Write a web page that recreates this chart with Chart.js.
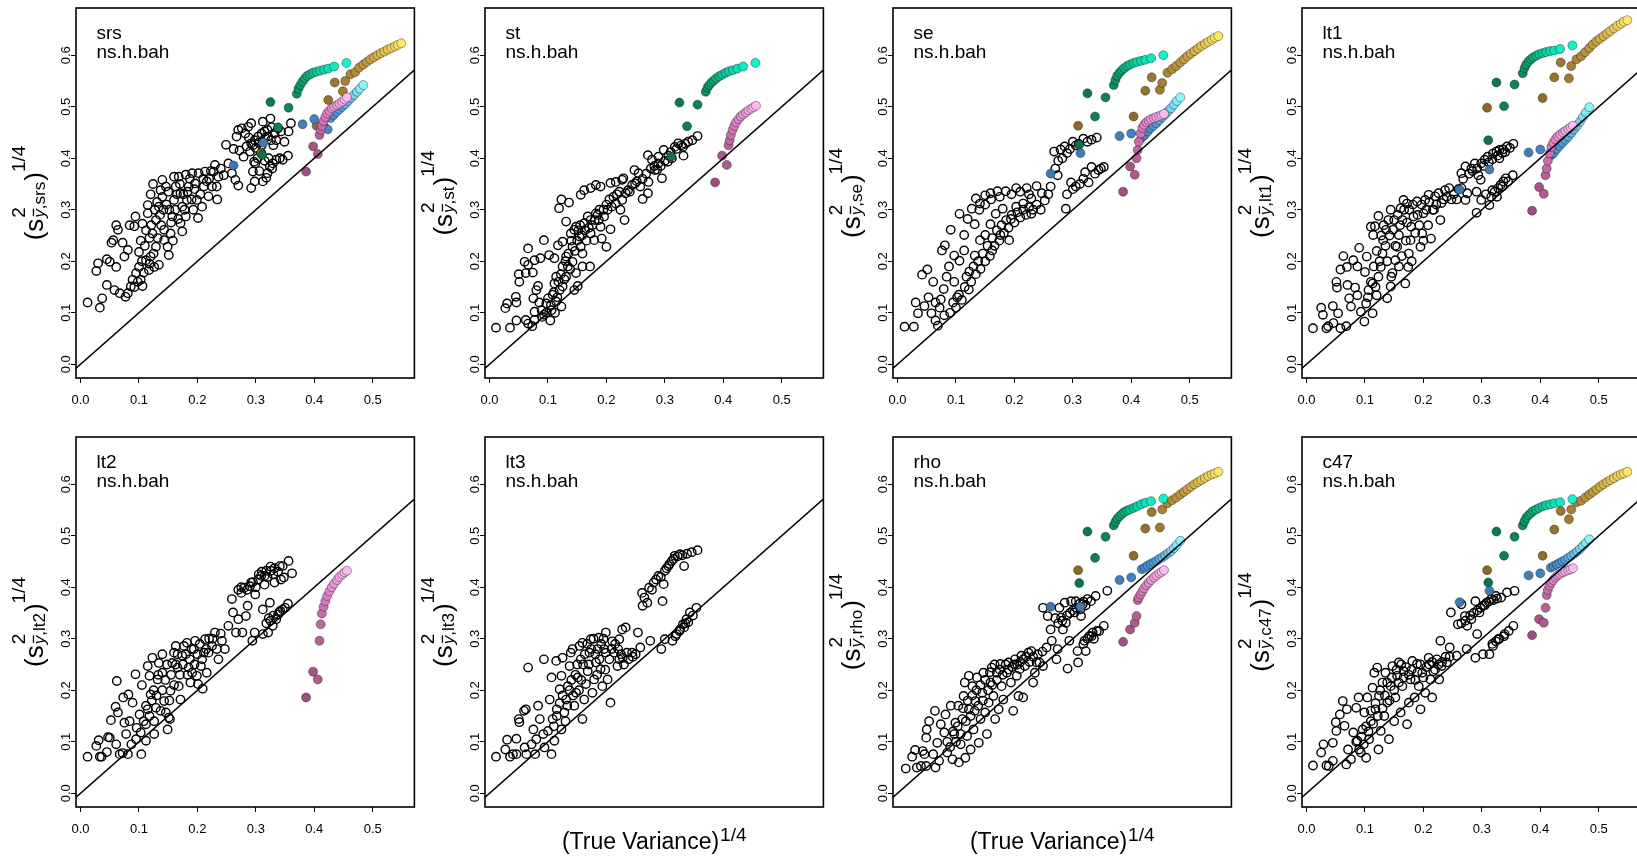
<!DOCTYPE html>
<html>
<head>
<meta charset="utf-8">
<script src="https://cdn.jsdelivr.net/npm/chart.js@4.4.0/dist/chart.umd.min.js"></script>
<style>
  html, body { margin: 0; padding: 0; background: #fff; overflow: hidden; width: 1637px; height: 864px; }
  canvas { position: absolute; }
</style>
</head>
<body>
<script>
// panel names (also the subscript in the y label)
const panelNames = ['srs', 'st', 'se', 'lt1', 'lt2', 'lt3', 'rho', 'c47'];
const xTicks = [0, 0.1, 0.2, 0.3, 0.4, 0.5];
const yTicks = [0, 0.1, 0.2, 0.3, 0.4, 0.5, 0.6];
const refLine = [-0.05, 0.62];   // y = x line

// open circles: [true variance^1/4, estimate^1/4]
const srsOpen = [[0.012,0.120],[0.033,0.110],[0.037,0.128],[0.027,0.181],[0.030,0.196],[0.045,0.154],[0.045,0.204],[0.050,0.199],[0.061,0.189],[0.053,0.236],[0.056,0.241],[0.061,0.270],[0.064,0.261],[0.058,0.144],[0.067,0.138],[0.077,0.131],[0.081,0.138],[0.075,0.209],[0.081,0.222],[0.072,0.236],[0.084,0.270],[0.092,0.268],[0.094,0.287],[0.089,0.164],[0.086,0.151],[0.095,0.177],[0.106,0.152],[0.103,0.164],[0.100,0.189],[0.100,0.218],[0.103,0.240],[0.106,0.273],[0.115,0.293],[0.115,0.309],[0.124,0.350],[0.120,0.330],[0.112,0.202],[0.120,0.209],[0.117,0.183],[0.126,0.189],[0.134,0.193],[0.129,0.228],[0.123,0.254],[0.129,0.280],[0.134,0.306],[0.140,0.325],[0.137,0.338],[0.146,0.345],[0.140,0.358],[0.143,0.261],[0.143,0.241],[0.149,0.228],[0.151,0.212],[0.154,0.254],[0.157,0.287],[0.160,0.319],[0.163,0.345],[0.160,0.364],[0.168,0.364],[0.171,0.332],[0.174,0.306],[0.174,0.258],[0.171,0.274],[0.180,0.287],[0.182,0.319],[0.185,0.345],[0.180,0.368],[0.191,0.371],[0.196,0.351],[0.199,0.319],[0.201,0.284],[0.208,0.306],[0.211,0.345],[0.202,0.371],[0.213,0.374],[0.216,0.355],[0.219,0.326],[0.225,0.345],[0.228,0.374],[0.230,0.387],[0.233,0.345],[0.234,0.320],[0.236,0.364],[0.249,0.426],[0.253,0.390],[0.259,0.371],[0.265,0.358],[0.270,0.347],[0.267,0.442],[0.270,0.455],[0.276,0.458],[0.287,0.461],[0.292,0.468],[0.279,0.403],[0.284,0.423],[0.290,0.413],[0.292,0.429],[0.298,0.435],[0.304,0.442],[0.310,0.448],[0.315,0.452],[0.321,0.442],[0.326,0.435],[0.332,0.448],[0.338,0.458],[0.343,0.452],[0.349,0.432],[0.297,0.393],[0.295,0.374],[0.298,0.355],[0.292,0.342],[0.299,0.390],[0.312,0.355],[0.320,0.371],[0.324,0.384],[0.329,0.390],[0.335,0.397],[0.341,0.400],[0.346,0.397],[0.355,0.405],[0.360,0.468],[0.356,0.452],[0.325,0.477],[0.312,0.471],
  [0.105,0.200],[0.110,0.230],[0.112,0.260],[0.118,0.245],[0.121,0.270],[0.127,0.300],[0.131,0.315],[0.136,0.290],[0.138,0.270],[0.142,0.300],[0.147,0.310],[0.150,0.335],[0.152,0.300],[0.155,0.275],[0.158,0.240],[0.162,0.300],[0.165,0.330],[0.167,0.282],[0.170,0.350],[0.176,0.330],[0.178,0.300],[0.183,0.335],[0.187,0.360],[0.190,0.320],[0.193,0.300],[0.195,0.340],[0.205,0.330],[0.210,0.360],[0.220,0.360],[0.223,0.375],[0.240,0.380],[0.245,0.367],[0.132,0.245],[0.125,0.215],[0.118,0.195],[0.108,0.178],[0.098,0.160],[0.092,0.150],[0.282,0.448],[0.288,0.440],[0.295,0.425],[0.300,0.420],[0.305,0.430],[0.310,0.425],[0.316,0.440],[0.320,0.455],[0.327,0.460],[0.330,0.425],[0.335,0.435],[0.303,0.400],[0.309,0.410],[0.315,0.395],[0.322,0.400],[0.328,0.380],[0.318,0.362],[0.306,0.375],[0.272,0.415],[0.262,0.418]];
const stOpen = [[0.011,0.071],[0.035,0.071],[0.027,0.109],[0.030,0.118],[0.046,0.120],[0.045,0.131],[0.046,0.085],[0.062,0.086],[0.066,0.079],[0.073,0.074],[0.077,0.086],[0.051,0.160],[0.050,0.175],[0.062,0.177],[0.066,0.225],[0.060,0.199],[0.066,0.193],[0.074,0.178],[0.077,0.202],[0.087,0.206],[0.093,0.241],[0.075,0.128],[0.080,0.144],[0.083,0.152],[0.077,0.102],[0.089,0.105],[0.093,0.096],[0.097,0.118],[0.100,0.128],[0.104,0.085],[0.106,0.105],[0.108,0.135],[0.111,0.157],[0.114,0.170],[0.114,0.122],[0.120,0.144],[0.123,0.112],[0.125,0.151],[0.125,0.190],[0.102,0.212],[0.111,0.206],[0.117,0.231],[0.131,0.170],[0.134,0.190],[0.131,0.209],[0.125,0.238],[0.131,0.277],[0.119,0.303],[0.123,0.320],[0.136,0.314],[0.139,0.254],[0.142,0.228],[0.142,0.199],[0.148,0.177],[0.151,0.152],[0.145,0.144],[0.145,0.261],[0.148,0.267],[0.154,0.248],[0.156,0.228],[0.159,0.215],[0.159,0.190],[0.172,0.190],[0.162,0.274],[0.168,0.287],[0.173,0.280],[0.173,0.254],[0.179,0.241],[0.182,0.293],[0.187,0.280],[0.190,0.267],[0.192,0.244],[0.200,0.228],[0.196,0.287],[0.202,0.300],[0.209,0.306],[0.207,0.262],[0.216,0.312],[0.224,0.300],[0.227,0.319],[0.231,0.280],[0.233,0.332],[0.237,0.338],[0.156,0.329],[0.162,0.338],[0.173,0.342],[0.182,0.348],[0.190,0.345],[0.207,0.352],[0.216,0.354],[0.227,0.358],[0.229,0.361],[0.244,0.348],[0.248,0.377],[0.255,0.371],[0.262,0.321],[0.272,0.354],[0.271,0.332],[0.271,0.406],[0.278,0.397],[0.283,0.377],[0.289,0.390],[0.295,0.361],[0.298,0.416],[0.305,0.393],[0.312,0.400],[0.317,0.422],[0.323,0.429],[0.331,0.422],[0.332,0.405],[0.340,0.432],[0.347,0.435],[0.356,0.443],[0.289,0.403],[0.249,0.351],[0.258,0.345],
  [0.105,0.115],[0.110,0.140],[0.116,0.130],[0.118,0.160],[0.122,0.175],[0.128,0.165],[0.130,0.200],[0.135,0.215],[0.138,0.185],[0.140,0.240],[0.146,0.220],[0.150,0.240],[0.152,0.260],[0.155,0.270],[0.158,0.250],[0.163,0.260],[0.166,0.240],[0.170,0.265],[0.176,0.270],[0.180,0.280],[0.185,0.290],[0.188,0.300],[0.195,0.300],[0.200,0.310],[0.205,0.320],[0.212,0.325],[0.218,0.330],[0.222,0.335],[0.240,0.335],[0.252,0.355],[0.262,0.360],[0.268,0.370],[0.276,0.380],[0.282,0.385],[0.287,0.378],[0.293,0.385],[0.300,0.395],[0.306,0.405],[0.310,0.412],[0.320,0.418],[0.328,0.425],[0.335,0.428],[0.097,0.100],[0.090,0.092],[0.085,0.120],[0.112,0.100]];
const seOpen = [[0.012,0.073],[0.028,0.073],[0.035,0.099],[0.031,0.120],[0.046,0.113],[0.042,0.174],[0.051,0.184],[0.058,0.099],[0.065,0.085],[0.069,0.075],[0.076,0.221],[0.081,0.231],[0.091,0.261],[0.074,0.126],[0.079,0.146],[0.084,0.170],[0.097,0.160],[0.102,0.130],[0.106,0.201],[0.114,0.221],[0.106,0.292],[0.120,0.282],[0.127,0.302],[0.134,0.322],[0.141,0.312],[0.150,0.328],[0.159,0.332],[0.171,0.336],[0.185,0.336],[0.203,0.342],[0.221,0.342],[0.238,0.346],[0.123,0.180],[0.132,0.211],[0.141,0.241],[0.150,0.251],[0.159,0.272],[0.168,0.292],[0.180,0.302],[0.191,0.241],[0.203,0.306],[0.215,0.312],[0.229,0.322],[0.247,0.332],[0.268,0.413],[0.279,0.417],[0.286,0.423],[0.300,0.432],[0.318,0.438],[0.341,0.440],[0.274,0.367],[0.297,0.353],[0.321,0.373],[0.332,0.383],[0.344,0.377],[0.288,0.302],[0.327,0.353],[0.353,0.383],[0.088,0.190],[0.097,0.211],[0.114,0.251],[0.132,0.272],[0.162,0.221],[0.176,0.251],[0.194,0.282],[0.229,0.292],[0.061,0.160],[0.053,0.130],
  [0.090,0.100],[0.095,0.120],[0.100,0.110],[0.105,0.135],[0.110,0.125],[0.115,0.150],[0.118,0.170],[0.122,0.145],[0.126,0.160],[0.130,0.190],[0.134,0.175],[0.138,0.200],[0.142,0.185],[0.146,0.215],[0.150,0.200],[0.154,0.230],[0.158,0.210],[0.162,0.245],[0.166,0.230],[0.170,0.260],[0.174,0.240],[0.178,0.270],[0.182,0.255],[0.186,0.280],[0.190,0.265],[0.195,0.290],[0.200,0.275],[0.205,0.295],[0.210,0.285],[0.215,0.300],[0.220,0.290],[0.225,0.305],[0.232,0.300],[0.238,0.310],[0.245,0.300],[0.252,0.318],[0.258,0.330],[0.262,0.345],[0.270,0.380],[0.275,0.395],[0.282,0.400],[0.290,0.410],[0.295,0.418],[0.305,0.425],[0.310,0.428],[0.325,0.432],[0.332,0.436],[0.290,0.330],[0.300,0.340],[0.305,0.345],[0.312,0.350],[0.318,0.360],[0.338,0.370],[0.348,0.380],[0.080,0.095],[0.072,0.110],[0.065,0.120],[0.140,0.300],[0.150,0.310],[0.160,0.320],[0.175,0.325],[0.195,0.330],[0.210,0.335],[0.225,0.330]];
const lt1Open = [[0.011,0.070],[0.025,0.110],[0.028,0.096],[0.034,0.070],[0.037,0.074],[0.045,0.113],[0.046,0.080],[0.054,0.099],[0.058,0.070],[0.068,0.074],[0.051,0.160],[0.052,0.149],[0.058,0.184],[0.063,0.210],[0.069,0.189],[0.070,0.154],[0.073,0.128],[0.076,0.112],[0.080,0.202],[0.087,0.190],[0.090,0.226],[0.083,0.149],[0.087,0.134],[0.093,0.102],[0.099,0.083],[0.102,0.118],[0.100,0.179],[0.103,0.209],[0.110,0.267],[0.114,0.251],[0.117,0.268],[0.123,0.288],[0.106,0.144],[0.113,0.157],[0.113,0.099],[0.120,0.134],[0.123,0.170],[0.127,0.189],[0.130,0.215],[0.131,0.241],[0.136,0.261],[0.140,0.280],[0.144,0.300],[0.148,0.261],[0.138,0.128],[0.144,0.151],[0.147,0.177],[0.152,0.202],[0.155,0.228],[0.158,0.251],[0.161,0.303],[0.164,0.280],[0.166,0.319],[0.172,0.312],[0.169,0.157],[0.174,0.189],[0.175,0.215],[0.178,0.241],[0.179,0.267],[0.183,0.287],[0.189,0.316],[0.195,0.228],[0.198,0.254],[0.200,0.293],[0.203,0.319],[0.209,0.329],[0.213,0.244],[0.216,0.300],[0.220,0.326],[0.226,0.332],[0.229,0.280],[0.231,0.313],[0.237,0.338],[0.244,0.342],[0.248,0.320],[0.257,0.320],[0.265,0.342],[0.272,0.319],[0.275,0.332],[0.265,0.371],[0.272,0.384],[0.282,0.380],[0.288,0.390],[0.294,0.367],[0.298,0.358],[0.291,0.335],[0.299,0.390],[0.305,0.397],[0.310,0.403],[0.319,0.409],[0.325,0.413],[0.330,0.416],[0.336,0.417],[0.343,0.423],[0.354,0.428],[0.330,0.400],[0.291,0.294],[0.299,0.319],[0.313,0.309],[0.316,0.325],[0.322,0.335],[0.328,0.342],[0.332,0.348],[0.337,0.355],[0.341,0.361],[0.353,0.367],
  [0.105,0.130],[0.110,0.160],[0.115,0.190],[0.118,0.150],[0.120,0.220],[0.125,0.200],[0.128,0.250],[0.132,0.270],[0.135,0.230],[0.138,0.200],[0.142,0.250],[0.145,0.170],[0.150,0.280],[0.152,0.230],[0.156,0.290],[0.158,0.190],[0.160,0.270],[0.163,0.210],[0.167,0.300],[0.170,0.240],[0.172,0.275],[0.176,0.300],[0.180,0.200],[0.182,0.310],[0.186,0.255],[0.190,0.290],[0.193,0.270],[0.197,0.310],[0.200,0.240],[0.205,0.300],[0.208,0.270],[0.210,0.315],[0.218,0.300],[0.222,0.310],[0.235,0.320],[0.240,0.325],[0.252,0.330],[0.260,0.340],[0.268,0.360],[0.278,0.370],[0.284,0.375],[0.292,0.380],[0.303,0.385],[0.312,0.392],[0.318,0.398],[0.327,0.405],[0.335,0.410],[0.340,0.412],[0.348,0.420],[0.307,0.330],[0.318,0.338],[0.326,0.325],[0.335,0.345],[0.345,0.355]];
const lt2Open = [[0.012,0.071],[0.027,0.092],[0.031,0.103],[0.033,0.071],[0.036,0.071],[0.045,0.080],[0.047,0.109],[0.052,0.142],[0.050,0.108],[0.061,0.095],[0.060,0.168],[0.062,0.218],[0.064,0.157],[0.067,0.076],[0.072,0.078],[0.081,0.076],[0.073,0.186],[0.082,0.192],[0.089,0.176],[0.094,0.231],[0.105,0.210],[0.075,0.137],[0.078,0.115],[0.084,0.140],[0.087,0.095],[0.095,0.105],[0.096,0.127],[0.104,0.076],[0.101,0.153],[0.103,0.118],[0.112,0.102],[0.112,0.134],[0.115,0.163],[0.115,0.247],[0.118,0.228],[0.120,0.192],[0.123,0.263],[0.126,0.115],[0.126,0.140],[0.129,0.166],[0.132,0.221],[0.134,0.253],[0.140,0.270],[0.140,0.234],[0.143,0.179],[0.146,0.157],[0.149,0.124],[0.151,0.147],[0.153,0.144],[0.154,0.199],[0.157,0.253],[0.160,0.273],[0.163,0.286],[0.166,0.244],[0.168,0.208],[0.171,0.182],[0.174,0.267],[0.177,0.286],[0.182,0.292],[0.185,0.244],[0.188,0.215],[0.191,0.234],[0.194,0.280],[0.196,0.296],[0.199,0.228],[0.201,0.212],[0.209,0.203],[0.206,0.247],[0.211,0.273],[0.213,0.299],[0.216,0.234],[0.219,0.273],[0.225,0.286],[0.230,0.312],[0.233,0.280],[0.236,0.260],[0.242,0.296],[0.247,0.280],[0.253,0.325],[0.259,0.377],[0.261,0.351],[0.266,0.312],[0.270,0.338],[0.275,0.389],[0.277,0.312],[0.280,0.399],[0.283,0.344],[0.286,0.364],[0.290,0.402],[0.292,0.409],[0.294,0.296],[0.298,0.312],[0.299,0.386],[0.304,0.415],[0.309,0.422],[0.312,0.357],[0.312,0.309],[0.315,0.422],[0.318,0.432],[0.321,0.312],[0.324,0.370],[0.326,0.432],[0.329,0.325],[0.332,0.409],[0.332,0.437],[0.335,0.338],[0.338,0.347],[0.341,0.441],[0.342,0.354],[0.346,0.357],[0.346,0.441],[0.348,0.419],[0.356,0.451],[0.355,0.368],[0.362,0.427],
  [0.108,0.140],[0.112,0.170],[0.118,0.150],[0.122,0.180],[0.125,0.200],[0.130,0.190],[0.133,0.230],[0.137,0.160],[0.140,0.200],[0.145,0.220],[0.148,0.250],[0.152,0.180],[0.155,0.230],[0.160,0.210],[0.163,0.250],[0.166,0.270],[0.170,0.230],[0.175,0.250],[0.180,0.270],[0.183,0.230],[0.187,0.260],[0.190,0.280],[0.195,0.250],[0.200,0.270],[0.204,0.290],[0.208,0.260],[0.215,0.280],[0.220,0.300],[0.226,0.300],[0.240,0.310],[0.270,0.395],[0.275,0.400],[0.285,0.395],[0.295,0.410],[0.300,0.400],[0.305,0.425],[0.310,0.430],[0.315,0.405],[0.320,0.420],[0.325,0.440],[0.330,0.425],[0.338,0.430],[0.343,0.415],[0.318,0.330],[0.325,0.335],[0.330,0.345],[0.340,0.352],[0.350,0.360],[0.322,0.340]];
const lt3Open = [[0.011,0.071],[0.027,0.085],[0.030,0.104],[0.035,0.071],[0.040,0.076],[0.046,0.076],[0.046,0.106],[0.050,0.144],[0.051,0.138],[0.062,0.163],[0.059,0.160],[0.066,0.244],[0.063,0.076],[0.060,0.089],[0.072,0.095],[0.078,0.076],[0.075,0.124],[0.080,0.105],[0.083,0.170],[0.086,0.144],[0.093,0.260],[0.092,0.115],[0.094,0.089],[0.100,0.121],[0.103,0.182],[0.106,0.076],[0.106,0.225],[0.108,0.144],[0.111,0.102],[0.114,0.257],[0.115,0.163],[0.120,0.202],[0.123,0.228],[0.125,0.263],[0.123,0.124],[0.128,0.157],[0.131,0.182],[0.134,0.208],[0.137,0.247],[0.139,0.273],[0.142,0.280],[0.145,0.170],[0.148,0.195],[0.151,0.225],[0.154,0.286],[0.156,0.260],[0.159,0.292],[0.159,0.144],[0.162,0.182],[0.165,0.212],[0.168,0.237],[0.171,0.273],[0.173,0.299],[0.176,0.195],[0.179,0.221],[0.182,0.254],[0.185,0.280],[0.187,0.302],[0.190,0.241],[0.193,0.208],[0.196,0.280],[0.199,0.312],[0.202,0.221],[0.207,0.176],[0.209,0.280],[0.213,0.273],[0.219,0.247],[0.222,0.299],[0.227,0.318],[0.233,0.322],[0.228,0.263],[0.235,0.273],[0.244,0.273],[0.254,0.312],[0.258,0.283],[0.275,0.296],[0.261,0.389],[0.262,0.364],[0.270,0.370],[0.273,0.399],[0.281,0.409],[0.289,0.422],[0.298,0.406],[0.296,0.373],[0.300,0.432],[0.306,0.441],[0.312,0.451],[0.317,0.461],[0.326,0.464],[0.333,0.441],[0.346,0.468],[0.356,0.472],[0.294,0.280],[0.300,0.299],[0.313,0.296],[0.320,0.309],[0.326,0.318],[0.331,0.328],[0.337,0.338],[0.343,0.351],[0.354,0.360],[0.199,0.273],[0.222,0.260],
  [0.110,0.130],[0.115,0.150],[0.120,0.175],[0.125,0.190],[0.130,0.140],[0.133,0.170],[0.137,0.200],[0.140,0.220],[0.143,0.190],[0.147,0.230],[0.150,0.250],[0.153,0.200],[0.157,0.220],[0.160,0.250],[0.163,0.270],[0.167,0.290],[0.170,0.250],[0.174,0.280],[0.178,0.300],[0.181,0.270],[0.184,0.230],[0.188,0.260],[0.191,0.290],[0.195,0.300],[0.198,0.240],[0.205,0.260],[0.210,0.295],[0.215,0.290],[0.220,0.280],[0.225,0.270],[0.230,0.250],[0.238,0.260],[0.245,0.265],[0.250,0.270],[0.265,0.380],[0.278,0.395],[0.285,0.415],[0.293,0.420],[0.303,0.437],[0.308,0.445],[0.315,0.455],[0.322,0.460],[0.330,0.462],[0.338,0.465],[0.318,0.305],[0.325,0.315],[0.333,0.322],[0.340,0.332],[0.348,0.345],[0.335,0.330]];
const rhoOpen = [[0.014,0.048],[0.025,0.071],[0.033,0.050],[0.030,0.084],[0.043,0.082],[0.046,0.076],[0.049,0.053],[0.040,0.053],[0.049,0.108],[0.050,0.124],[0.054,0.140],[0.061,0.076],[0.064,0.160],[0.065,0.050],[0.068,0.098],[0.071,0.063],[0.074,0.134],[0.080,0.118],[0.082,0.153],[0.085,0.079],[0.091,0.170],[0.094,0.066],[0.097,0.115],[0.099,0.137],[0.104,0.170],[0.105,0.060],[0.108,0.095],[0.111,0.144],[0.113,0.189],[0.115,0.215],[0.116,0.069],[0.119,0.111],[0.122,0.228],[0.122,0.163],[0.125,0.085],[0.128,0.208],[0.130,0.124],[0.133,0.179],[0.136,0.225],[0.139,0.098],[0.142,0.144],[0.145,0.195],[0.147,0.234],[0.150,0.157],[0.153,0.115],[0.156,0.176],[0.159,0.215],[0.161,0.244],[0.164,0.189],[0.167,0.144],[0.170,0.234],[0.173,0.163],[0.176,0.251],[0.178,0.208],[0.181,0.182],[0.187,0.234],[0.190,0.254],[0.194,0.215],[0.198,0.160],[0.201,0.260],[0.204,0.228],[0.207,0.189],[0.209,0.241],[0.212,0.267],[0.215,0.186],[0.218,0.247],[0.224,0.273],[0.229,0.276],[0.232,0.215],[0.235,0.234],[0.238,0.254],[0.243,0.254],[0.249,0.247],[0.255,0.283],[0.249,0.360],[0.257,0.344],[0.262,0.318],[0.264,0.296],[0.272,0.260],[0.274,0.280],[0.277,0.360],[0.280,0.341],[0.283,0.318],[0.286,0.370],[0.288,0.331],[0.291,0.242],[0.294,0.296],[0.297,0.373],[0.303,0.351],[0.305,0.373],[0.309,0.254],[0.308,0.276],[0.313,0.357],[0.317,0.367],[0.320,0.296],[0.322,0.276],[0.325,0.377],[0.328,0.305],[0.331,0.373],[0.334,0.312],[0.339,0.383],[0.341,0.315],[0.353,0.325],[0.359,0.393],[0.314,0.344],
  [0.085,0.100],[0.090,0.090],[0.095,0.120],[0.100,0.100],[0.103,0.130],[0.108,0.115],[0.112,0.165],[0.117,0.140],[0.120,0.180],[0.125,0.150],[0.128,0.190],[0.132,0.160],[0.135,0.200],[0.138,0.170],[0.142,0.210],[0.146,0.180],[0.150,0.220],[0.155,0.200],[0.158,0.235],[0.162,0.210],[0.166,0.250],[0.170,0.220],[0.175,0.240],[0.180,0.230],[0.185,0.250],[0.190,0.240],[0.196,0.245],[0.200,0.250],[0.205,0.250],[0.210,0.255],[0.215,0.260],[0.220,0.265],[0.226,0.255],[0.232,0.265],[0.240,0.270],[0.248,0.275],[0.270,0.340],[0.275,0.330],[0.282,0.335],[0.290,0.345],[0.295,0.350],[0.300,0.355],[0.306,0.360],[0.312,0.368],[0.318,0.372],[0.322,0.365],[0.318,0.290],[0.325,0.300],[0.332,0.305],[0.336,0.300],[0.345,0.315]];
const c47Open = [[0.011,0.054],[0.025,0.079],[0.029,0.095],[0.034,0.054],[0.038,0.053],[0.045,0.098],[0.045,0.063],[0.050,0.138],[0.051,0.121],[0.057,0.153],[0.062,0.179],[0.065,0.131],[0.068,0.056],[0.069,0.163],[0.071,0.085],[0.076,0.066],[0.080,0.118],[0.085,0.166],[0.089,0.186],[0.087,0.102],[0.093,0.079],[0.096,0.124],[0.099,0.157],[0.102,0.069],[0.104,0.186],[0.107,0.105],[0.110,0.140],[0.113,0.205],[0.116,0.234],[0.118,0.163],[0.121,0.244],[0.123,0.085],[0.124,0.189],[0.127,0.121],[0.130,0.215],[0.133,0.150],[0.135,0.234],[0.138,0.176],[0.141,0.105],[0.144,0.208],[0.147,0.247],[0.150,0.140],[0.152,0.186],[0.155,0.228],[0.158,0.254],[0.161,0.157],[0.164,0.208],[0.166,0.237],[0.172,0.134],[0.175,0.176],[0.178,0.221],[0.181,0.257],[0.185,0.186],[0.189,0.251],[0.192,0.208],[0.195,0.163],[0.198,0.234],[0.203,0.195],[0.209,0.263],[0.212,0.221],[0.215,0.186],[0.217,0.237],[0.223,0.260],[0.227,0.221],[0.229,0.296],[0.231,0.247],[0.240,0.254],[0.245,0.283],[0.257,0.267],[0.247,0.351],[0.259,0.328],[0.265,0.367],[0.271,0.344],[0.274,0.280],[0.275,0.325],[0.282,0.338],[0.289,0.373],[0.292,0.309],[0.296,0.351],[0.302,0.364],[0.308,0.370],[0.289,0.263],[0.302,0.270],[0.313,0.270],[0.316,0.377],[0.319,0.286],[0.324,0.383],[0.328,0.299],[0.333,0.380],[0.339,0.309],[0.343,0.390],[0.354,0.325],[0.356,0.393],
  [0.085,0.100],[0.090,0.085],[0.094,0.110],[0.098,0.095],[0.102,0.130],[0.106,0.120],[0.110,0.160],[0.114,0.135],[0.118,0.175],[0.122,0.150],[0.126,0.200],[0.130,0.165],[0.134,0.190],[0.138,0.215],[0.142,0.180],[0.146,0.225],[0.150,0.200],[0.154,0.240],[0.158,0.215],[0.162,0.250],[0.166,0.225],[0.170,0.245],[0.175,0.230],[0.180,0.240],[0.186,0.220],[0.190,0.235],[0.195,0.250],[0.200,0.225],[0.205,0.245],[0.210,0.250],[0.215,0.255],[0.220,0.240],[0.226,0.250],[0.232,0.255],[0.238,0.265],[0.245,0.265],[0.265,0.330],[0.272,0.335],[0.280,0.345],[0.286,0.350],[0.292,0.355],[0.298,0.360],[0.305,0.365],[0.312,0.372],[0.320,0.375],[0.326,0.378],[0.318,0.290],[0.324,0.295],[0.330,0.300],[0.338,0.305],[0.346,0.315]];

// coloured groups: shared true-variance x, estimate y per panel
const greenX = [0.311,0.325,0.338,0.356,0.370,0.373,0.376,0.380,0.384,0.388,0.393,0.398,0.404,0.410,0.417,0.424,0.434,0.455];
const srsGreen = [0.406,0.509,0.460,0.498,0.525,0.535,0.542,0.549,0.555,0.560,0.563,0.566,0.568,0.570,0.572,0.574,0.578,0.585];
const stGreen = [0.403,0.508,0.462,0.504,0.529,0.537,0.542,0.547,0.551,0.555,0.559,0.562,0.566,0.569,0.571,0.574,0.578,0.585];
const seGreen = [0.426,0.526,0.481,0.518,0.542,0.552,0.560,0.566,0.571,0.575,0.579,0.582,0.585,0.587,0.589,0.591,0.594,0.600];
const lt1Green = [0.435,0.547,0.501,0.543,0.565,0.575,0.582,0.588,0.592,0.596,0.599,0.602,0.604,0.606,0.608,0.609,0.612,0.619];
const rhoGreen = [0.408,0.508,0.457,0.498,0.520,0.527,0.533,0.538,0.542,0.546,0.549,0.551,0.554,0.557,0.561,0.564,0.567,0.572];
const c47Green = [0.409,0.508,0.461,0.498,0.520,0.528,0.535,0.540,0.544,0.548,0.551,0.554,0.557,0.559,0.561,0.563,0.565,0.571];

const goldX = [0.309,0.404,0.424,0.435,0.449,0.453,0.462,0.470,0.477,0.484,0.490,0.496,0.502,0.508,0.514,0.520,0.526,0.532,0.538,0.543,0.549];
const srsGold = [0.410,0.463,0.513,0.547,0.530,0.550,0.563,0.567,0.576,0.582,0.587,0.592,0.596,0.600,0.604,0.607,0.611,0.614,0.617,0.620,0.623];
const seGold = [0.463,0.481,0.531,0.557,0.533,0.546,0.566,0.573,0.579,0.586,0.592,0.598,0.603,0.608,0.613,0.618,0.622,0.626,0.630,0.634,0.637];
const lt1Gold = [0.498,0.517,0.557,0.586,0.555,0.579,0.592,0.598,0.606,0.614,0.621,0.627,0.632,0.637,0.642,0.647,0.652,0.657,0.661,0.665,0.668];
const rhoGold = [0.433,0.461,0.514,0.546,0.516,0.551,0.563,0.569,0.574,0.580,0.585,0.590,0.595,0.600,0.604,0.608,0.612,0.616,0.619,0.621,0.624];
const c47Gold = [0.433,0.461,0.512,0.548,0.532,0.551,0.565,0.568,0.574,0.580,0.585,0.590,0.595,0.600,0.604,0.608,0.612,0.616,0.619,0.621,0.624];

const blueX = [0.262,0.313,0.380,0.400,0.418,0.423,0.428,0.433,0.438,0.443,0.448,0.453,0.458,0.463,0.468,0.473,0.478,0.484];
const srsBlue = [0.386,0.430,0.466,0.476,0.460,0.456,0.478,0.484,0.490,0.495,0.500,0.505,0.511,0.517,0.523,0.529,0.535,0.542];
const seBlue = [0.370,0.410,0.443,0.448,0.440,0.445,0.452,0.458,0.463,0.468,0.474,0.480,0.485,0.491,0.497,0.504,0.511,0.518];
const lt1Blue = [0.339,0.378,0.411,0.417,0.405,0.410,0.418,0.424,0.430,0.436,0.442,0.449,0.456,0.463,0.471,0.480,0.489,0.499];
const rhoBlue = [0.362,0.362,0.414,0.419,0.435,0.438,0.442,0.445,0.448,0.451,0.455,0.458,0.462,0.466,0.470,0.476,0.482,0.490];
const c47Blue = [0.371,0.393,0.423,0.427,0.438,0.441,0.444,0.447,0.450,0.453,0.457,0.461,0.465,0.469,0.474,0.480,0.486,0.493];

const pinkX = [0.386,0.398,0.406,0.409,0.411,0.413,0.416,0.419,0.422,0.426,0.430,0.434,0.439,0.443,0.448,0.452,0.456];
const srsPink = [0.374,0.423,0.408,0.445,0.455,0.463,0.472,0.480,0.487,0.492,0.497,0.500,0.503,0.506,0.510,0.514,0.518];
const stPink = [0.353,0.405,0.387,0.425,0.435,0.445,0.455,0.463,0.470,0.476,0.481,0.485,0.489,0.493,0.496,0.499,0.502];
const sePink = [0.335,0.384,0.368,0.400,0.416,0.432,0.448,0.459,0.465,0.470,0.473,0.476,0.478,0.480,0.482,0.484,0.486];
const lt1Pink = [0.298,0.344,0.331,0.367,0.380,0.395,0.410,0.422,0.430,0.437,0.442,0.446,0.450,0.453,0.457,0.460,0.463];
const lt2Pink = [0.186,0.236,0.221,0.296,0.328,0.349,0.362,0.373,0.383,0.392,0.400,0.407,0.414,0.420,0.425,0.429,0.432];
const rhoPink = [0.294,0.318,0.331,0.344,0.375,0.380,0.386,0.392,0.398,0.404,0.409,0.414,0.419,0.423,0.427,0.430,0.433];
const c47Pink = [0.307,0.338,0.331,0.360,0.385,0.395,0.403,0.409,0.414,0.419,0.423,0.426,0.429,0.431,0.433,0.435,0.437];

const panels = [
  { open: srsOpen, green: srsGreen, gold: srsGold, blue: srsBlue, pink: srsPink, xAxis: true },
  { open: stOpen, green: stGreen, pink: stPink, xAxis: true },
  { open: seOpen, green: seGreen, gold: seGold, blue: seBlue, pink: sePink, xAxis: true },
  { open: lt1Open, green: lt1Green, gold: lt1Gold, blue: lt1Blue, pink: lt1Pink, xAxis: true },
  { open: lt2Open, pink: lt2Pink, xAxis: true },
  { open: lt3Open, xAxis: false, xTitle: true },
  { open: rhoOpen, green: rhoGreen, gold: rhoGold, blue: rhoBlue, pink: rhoPink, xAxis: false, xTitle: true },
  { open: c47Open, green: c47Green, gold: c47Gold, blue: c47Blue, pink: c47Pink, xAxis: true }
];

const FONT = '"Liberation Sans", Arial, Helvetica, sans-serif';
const areaLeft = [76, 485, 893, 1302];
const areaTop = [8, 437];

// colour ramps (dark -> light) along each group
function ramp(stops, n) {
  const rgb = stops.map(h => [1, 3, 5].map(k => parseInt(h.slice(k, k + 2), 16)));
  const out = [];
  for (let i = 0; i < n; i++) {
    const f = (n > 1 ? i / (n - 1) : 0) * (rgb.length - 1);
    const k = Math.min(Math.floor(f), rgb.length - 2);
    const r = f - k;
    const c = rgb[k].map((v, j) => Math.round(v + (rgb[k + 1][j] - v) * r));
    out.push('rgb(' + c.join(',') + ')');
  }
  return out;
}
const groupStyle = {
  green: { xs: greenX, stops: ['#0b7250', '#0fa878', '#14f2c8'], order: 3 },
  gold: { xs: goldX, stops: ['#8a6828', '#c29a42', '#ffe868'], order: 4 },
  blue: { xs: blueX, stops: ['#3c78b0', '#4f98d6', '#8af4ff'], order: 2 },
  pink: { xs: pinkX, stops: ['#9e4f7c', '#de7fc6', '#ffbaf4'], order: 1 }
};

function drawYLabel(ctx, a, sub) {
  ctx.save();
  ctx.translate(a.left - 32.7, (a.top + a.bottom) / 2);
  ctx.rotate(-Math.PI / 2);
  ctx.fillStyle = '#000';
  const big = '26px ' + FONT, small = '17px ' + FONT, ital = 'italic 17px ' + FONT, sup = '19px ' + FONT;
  ctx.font = big;
  const wOpen = ctx.measureText('(').width, wS = ctx.measureText('s').width, wClose = ctx.measureText(')').width;
  ctx.font = ital; const wY = ctx.measureText('y').width;
  ctx.font = small; const wSub = ctx.measureText(',' + sub).width;
  ctx.font = sup; const wQ = ctx.measureText('1/4').width;
  const total = wOpen + wS + 1 + wY + wSub + 1 + wClose + wQ;
  let u = -total / 2;
  ctx.font = big; ctx.fillText('(', u, 0); u += wOpen;
  ctx.fillText('s', u, 0); u += wS + 1;
  ctx.font = sup; ctx.fillText('2', u, -18);
  ctx.font = ital; ctx.fillText('y', u, 2);
  ctx.fillRect(u + 1.5, -10.5, wY - 1, 1.3);
  ctx.font = small; ctx.fillText(',' + sub, u + wY, 2);
  u += wY + wSub + 1;
  ctx.font = big; ctx.fillText(')', u, 0); u += wClose;
  ctx.font = sup; ctx.fillText('1/4', u, -18);
  ctx.restore();
}

function drawXTitle(ctx, a) {
  ctx.save();
  ctx.fillStyle = '#000';
  ctx.font = '23px ' + FONT; const w1 = ctx.measureText('(True Variance)').width;
  ctx.font = '19px ' + FONT; const w2 = ctx.measureText('1/4').width;
  const x0 = (a.left + a.right) / 2 - (w1 + w2 + 1) / 2;
  ctx.font = '23px ' + FONT; ctx.fillText('(True Variance)', x0, a.bottom + 42);
  ctx.font = '19px ' + FONT; ctx.fillText('1/4', x0 + w1 + 1, a.bottom + 34);
  ctx.restore();
}

panels.forEach((p, i) => {
  const col = i % 4, row = Math.floor(i / 4);
  const name = panelNames[i];
  const canvas = document.createElement('canvas');
  canvas.width = 420; canvas.height = 432;
  canvas.style.width = '420px'; canvas.style.height = '432px';
  canvas.style.left = (areaLeft[col] - 76) + 'px';
  canvas.style.top = (areaTop[row] - 8) + 'px';
  document.body.appendChild(canvas);

  const datasets = [{
    data: refLine.map(v => ({ x: v, y: v })),
    showLine: true, pointRadius: 0, borderColor: '#000', borderWidth: 1.5, clip: 0, order: 0
  }, {
    data: p.open.map(([x, y]) => ({ x, y })),
    pointRadius: 4.2, borderWidth: 1.4, borderColor: '#000', backgroundColor: 'rgba(0,0,0,0)', order: 6
  }];
  ['gold', 'green', 'blue', 'pink'].forEach(g => {
    if (!p[g]) return;
    const s = groupStyle[g];
    datasets.push({
      data: s.xs.map((x, k) => ({ x, y: p[g][k] })),
      pointRadius: 4.5, borderWidth: 0.6, borderColor: 'rgba(0,0,0,0.6)',
      backgroundColor: ramp(s.stops, s.xs.length), order: s.order
    });
  });

  const deco = {
    id: 'deco',
    afterDraw(chart) {
      const ctx = chart.ctx, a = chart.chartArea;
      ctx.save();
      ctx.strokeStyle = '#000'; ctx.lineWidth = 1.6;
      ctx.strokeRect(a.left, a.top, a.right - a.left, a.bottom - a.top);
      ctx.fillStyle = '#000';
      ctx.font = '19px ' + FONT;
      ctx.fillText(name, a.left + 20.5, a.top + 30.5);
      ctx.fillText('ns.h.bah', a.left + 20.5, a.top + 50.3);
      ctx.restore();
      drawYLabel(ctx, a, name);
      if (p.xTitle) drawXTitle(ctx, a);
    }
  };

  new Chart(canvas, {
    type: 'scatter',
    data: { datasets },
    options: {
      responsive: false, animation: false, devicePixelRatio: 1, events: [],
      layout: { padding: { left: 0, top: 8, right: 2, bottom: 0 } },
      plugins: { legend: { display: false }, tooltip: { enabled: false } },
      scales: {
        x: {
          type: 'linear', min: -0.0078, max: 0.5714,
          afterBuildTicks: s => { s.ticks = xTicks.map(v => ({ value: v })); },
          ticks: { display: p.xAxis, callback: v => v.toFixed(1), color: '#000', font: { family: FONT, size: 13 }, padding: 10, maxRotation: 0, autoSkip: false },
          grid: { display: p.xAxis, drawOnChartArea: false, drawTicks: true, tickLength: 5, color: '#000', lineWidth: 1 },
          border: { display: false },
          afterFit: s => { s.height = 54; s.paddingLeft = 0; s.paddingRight = 0; }
        },
        y: {
          type: 'linear', min: -0.0266, max: 0.6916,
          afterBuildTicks: s => { s.ticks = yTicks.map(v => ({ value: v })); },
          ticks: { callback: v => v.toFixed(1), color: '#000', font: { family: FONT, size: 13 }, padding: -4, minRotation: 90, maxRotation: 90, crossAlign: 'center', autoSkip: false },
          grid: { drawOnChartArea: false, drawTicks: true, tickLength: 5, color: '#000', lineWidth: 1 },
          border: { display: false },
          afterFit: s => { s.width = 76; s.paddingTop = 0; s.paddingBottom = 0; }
        }
      }
    },
    plugins: [deco]
  });
});
</script>
</body>
</html>
